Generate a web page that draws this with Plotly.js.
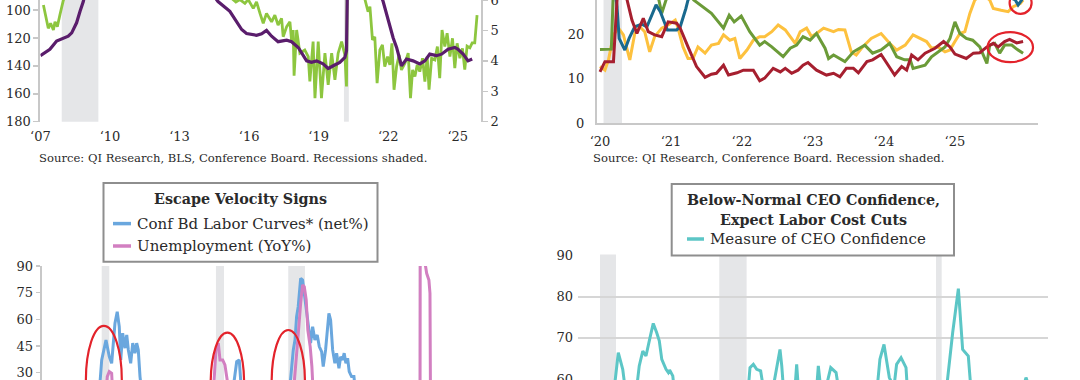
<!DOCTYPE html>
<html><head><meta charset="utf-8">
<script src="https://cdn.plot.ly/plotly-3.0.1.min.js"></script>
<style>html,body{margin:0;padding:0;background:#fff}#chart{width:1080px;height:380px}</style>
</head><body><div id="chart"></div>
<script>
// ---------- Panel A: labor index (left, reversed) & unemployment rate (right) ----------
const jobsX = [2007.13,2007.20,2007.34,2007.44,2007.56,2007.63,2007.73,2007.84,2007.92,2007.99,
2008.5,2010.5,2013.0,2015.0,
2015.43,2015.60,2015.82,2015.96,2016.18,2016.32,2016.47,2016.61,2016.75,2016.97,
2017.11,2017.25,2017.40,2017.47,2017.62,2017.76,2017.83,2017.90,2017.94,2018.05,
2018.19,2018.40,2018.55,2018.62,2018.76,2018.84,2018.98,2019.12,2019.27,2019.41,
2019.56,2019.70,2019.84,2019.99,2020.13,2020.20,2020.24,2020.6,
2020.99,2021.13,2021.21,2021.32,2021.42,2021.52,2021.64,2021.75,2021.85,2021.97,
2022.07,2022.16,2022.25,2022.36,2022.47,2022.57,2022.72,2022.86,2022.96,2023.05,
2023.15,2023.25,2023.36,2023.48,2023.58,2023.68,2023.76,2023.87,2024.01,2024.12,
2024.22,2024.32,2024.44,2024.54,2024.66,2024.77,2024.87,2024.97,2025.09,2025.20,
2025.30,2025.40,2025.52,2025.62,2025.73,2025.83];
const jobsY = [96.4,102.4,113.1,109.5,114.3,108.4,111.9,103.6,97.6,92.9,
80,70,75,88,
94.3,92.5,95.2,92.5,98.8,94.1,102.4,109.5,102.4,108.4,
103.6,110.7,105.9,119.1,111.9,108.4,121.4,114.3,147.1,114.3,
130.9,128.6,133.4,151.2,122.6,163.1,122.6,163.1,130.9,153.6,
130.9,150.0,130.9,122.6,132.1,154.8,60,50,
92,101.2,97.6,121.4,119.1,152.4,128.6,125.0,140.5,133.4,
139.3,123.8,157.1,140.5,132.1,142.9,138.1,130.9,163.1,142.9,
147.6,139.3,144.1,134.5,151.2,133.4,157.1,134.5,135.7,126.2,
148.8,114.3,126.2,116.6,133.4,120.2,141.6,123.8,134.5,127.4,
142.6,125.9,127.1,123.5,123.5,103.6];
const urateX = [2007.0,2007.41,2007.70,2007.99,2008.20,2008.35,2008.56,2008.71,2008.85,2009.3,2009.9,2010.6,2011.5,2012.5,2013.5,2014.2,
2014.66,2015.17,2015.39,2015.68,2015.89,2016.32,2016.54,2016.75,2016.97,2017.25,2017.62,2017.83,2018.12,2018.48,2018.69,2018.91,
2019.19,2019.41,2019.63,2019.91,2020.13,2020.20,2020.23,2020.28,2020.6,2021.0,2021.4,2021.78,2022.00,2022.21,2022.36,2022.57,
2022.79,2023.07,2023.36,2023.58,2023.79,2024.08,2024.30,2024.58,2024.87,2025.01,2025.23,2025.44,2025.62];
const urateY = [4.17,4.38,4.65,4.74,4.81,4.92,5.25,5.63,5.95,7.5,9.5,9.6,9.0,8.1,7.3,6.4,
5.95,5.63,5.36,5.03,4.90,4.84,4.89,5.00,4.81,4.63,4.68,4.63,4.44,4.00,3.95,4.00,
3.90,3.75,3.84,3.95,4.11,4.33,5.95,14.0,11.0,8.5,6.8,5.95,5.30,4.76,4.44,3.84,
4.06,4.00,3.90,4.00,4.22,4.17,4.22,4.38,4.44,4.38,4.22,4.00,4.06];
const recA0 = [2007.92, 2020.09], recA1 = [2009.50, 2020.30];
const ticksA = [2007,2010,2013,2016,2019,2022,2025];
const labelsA = ['\u201807','\u201810','\u201813','\u201816','\u201819','\u201822','\u201825'];

// ---------- Panel B: four survey series since 2020 ----------
const redX = [2020.00,2020.07,2020.19,2020.24,2020.30,2020.38,2020.45,2020.52,2020.61,2020.68,
2020.77,2020.87,2020.96,2021.08,2021.13,2021.24,2021.36,2021.48,2021.57,2021.64,
2021.74,2021.81,2021.93,2022.02,2022.16,2022.25,2022.32,2022.44,2022.54,2022.61,
2022.70,2022.79,2022.86,2022.93,2023.05,2023.19,2023.29,2023.38,2023.47,2023.57,
2023.64,2023.76,2023.84,2023.96,2024.06,2024.15,2024.25,2024.32,2024.39,2024.48,
2024.58,2024.72,2024.84,2024.93,2025.00,2025.16,2025.26,2025.35,2025.45,2025.54,
2025.61,2025.70,2025.77,2025.87,2025.96];
const redY = [11.5,13.8,13.8,27.6,33,27.6,23.1,20.1,23.5,20.5,
19.8,19.4,22.7,22.4,21.3,17.1,12.7,10.3,11.0,11.2,
13.0,10.8,11.3,11.9,11.9,9.5,10.1,12.3,11.5,12.3,
11.2,11.9,13.0,13.6,11.9,10.8,11.2,10.4,12.3,12.3,
11.3,13.8,14.2,15.4,13.0,10.8,12.7,11.9,15.3,14.2,
15.7,16.8,18.3,17.1,15.5,14.5,15.7,15.8,17.1,17.9,
17.1,18.3,18.8,18.0,18.3];
const greenBX = [2020.00,2020.16,2020.20,2020.5,2020.83,2020.87,2020.93,2021.1,2021.32,2021.45,
2021.57,2021.74,2021.82,2021.89,2021.99,2022.11,2022.25,2022.32,2022.42,2022.58,
2022.68,2022.77,2022.86,2022.96,2023.05,2023.17,2023.22,2023.29,2023.45,2023.57,
2023.73,2023.84,2023.96,2024.08,2024.18,2024.29,2024.37,2024.41,2024.51,2024.58,
2024.67,2024.76,2024.86,2024.93,2025.00,2025.07,2025.16,2025.25,2025.35,2025.45,
2025.49,2025.56,2025.63,2025.70,2025.80,2025.87,2025.96];
const greenBY = [16.5,16.6,35,40,27.6,24.6,27.6,33,27.6,26.1,
24.6,21.3,24.2,22.7,24.0,20.5,17.5,18.3,17.1,14.9,
16.8,17.5,19.4,18.6,20.1,16.8,14.5,15.3,13.8,16.0,
17.5,15.7,16.4,17.9,14.9,14.2,14.2,12.3,12.7,13.0,
14.9,16.0,17.1,19.0,22.7,20.1,19.0,18.6,17.1,13.4,
17.5,17.9,15.7,17.5,17.5,16.6,15.7];
const yellowX = [2020.00,2020.07,2020.12,2020.19,2020.26,2020.33,2020.42,2020.49,2020.56,2020.63,
2020.70,2020.77,2020.87,2020.96,2021.06,2021.10,2021.17,2021.24,2021.31,2021.38,
2021.48,2021.57,2021.67,2021.74,2021.83,2021.90,2021.97,2022.07,2022.16,2022.25,
2022.32,2022.42,2022.51,2022.61,2022.68,2022.75,2022.82,2022.91,2022.98,2023.05,
2023.15,2023.22,2023.29,2023.36,2023.45,2023.54,2023.61,2023.70,2023.82,2023.96,
2024.08,2024.18,2024.30,2024.41,2024.51,2024.60,2024.67,2024.76,2024.86,2024.93,
2025.00,2025.07,2025.14,2025.21,2025.28,2025.38,2025.49,2025.54,2025.65,2025.75,
2025.82,2025.92,2025.96];
const yellowY = [12.7,11.9,14.2,19.8,21.3,19.8,14.2,20.1,21.6,20.5,
16.0,19.4,21.3,22.0,23.1,21.3,17.1,14.5,14.5,17.1,
15.7,17.5,17.9,19.8,18.6,19.0,14.5,16.4,18.6,19.4,
19.4,20.5,22.0,20.9,19.4,17.9,20.5,21.3,19.4,20.1,
21.3,20.9,20.5,21.0,20.9,16.0,15.3,17.1,19.0,20.1,
17.9,16.4,17.5,19.8,19.0,18.3,16.8,17.1,16.0,16.4,
18.3,20.1,20.5,24.6,27.6,29,27.6,25.7,25.3,25.0,
26.1,26.8,27.6];
const blueBX = [2020.17,2020.24,2020.27,2020.35,2020.41,2020.49,2020.59,2020.66,2020.73,2020.79,
2020.85,2020.92,2020.95,2021.08,2021.13,2021.21,2021.24,2021.6,2023.0,2024.5,
2025.85,2025.89,2025.94,2025.97];
const blueBY = [35,26.1,19.0,16.4,19.0,21.6,22.2,21.6,24.2,26.5,
25.0,22.0,20.9,20.9,21.6,25.7,27.6,35,40,38,
27.6,26.5,27.6,29];
const recB0 = [2020.05], recB1 = [2020.31];
const ticksB = [2020,2021,2022,2023,2024,2025];
const labelsB = ['\u201820','\u201821','\u201822','\u201823','\u201824','\u201825'];

// ---------- Panel C: Escape Velocity Signs ----------
const laborX = [1985.0,1988.0,1990.3,1990.54,1990.75,1990.94,1991.06,1991.25,1991.47,1991.62,1991.78,1991.99,
1992.18,1992.32,1992.50,1992.72,1992.88,1993.03,1993.25,1993.44,1993.65,1993.81,1993.96,1994.12,1994.3,
1997.0,2000.0,2002.8,2003.16,2003.40,2003.6,2006.0,2008.1,
2008.30,2008.45,2008.61,2008.76,2008.91,2009.14,2009.32,2009.54,2009.76,2009.94,
2010.07,2010.26,2010.47,2010.69,2010.88,2011.10,2011.25,2011.47,2011.66,2011.78,2011.94,
2012.13,2012.34,2012.50,2012.72,2012.88,2013.06,2013.21,2013.37,2013.53,2013.68,2013.90,
2014.12,2014.3,2017.0,2020.0,2022.0,2025.6];
const laborY = [10,15,18,37.2,42.8,48.4,44.7,39.0,35.3,46.6,57.8,64.3,
55.9,37.2,52.2,43.8,51.2,42.8,35.3,46.6,41.0,46.6,42.8,27.8,18,
0,10,20,36.2,37.2,20,5,20,
35.3,42.8,48.4,61.5,67.1,83.1,82.1,71.0,61.5,52.2,
46.6,55.9,48.4,51.2,44.7,41.9,33.4,42.8,54.0,63.4,59.7,
42.8,35.3,41.0,32.5,39.0,37.2,41.0,35.3,38.1,30.6,27.8,
27.8,18,5,15,10,5];
const unempX = [1985.0,1988.0,1990.9,1991.06,1991.25,1991.47,1991.57,1994.0,1998.0,
2000.97,2001.22,2001.44,2001.60,2001.85,2002.06,2002.22,2002.47,2004.0,2007.0,
2008.45,2008.70,2008.92,2009.14,2009.32,2009.48,2009.66,2009.81,2010.03,2010.19,2010.32,
2012.0,2016.0,2019.5,2020.30,2020.36,2020.55,2020.76,2020.92,2021.13,2021.23,2021.29,2022.0,2025.6];
const unempY = [-5,-10,15,27.8,30.6,29.7,18,-10,-5,
18,42.8,46.6,37.2,37.2,34.4,29.7,18,-10,5,
18,39.0,52.2,69.0,79.3,78.4,71.0,54.0,44.7,33.4,18,
-10,-10,-5,10,300,200,92,85.9,82.1,74.7,0,-30,5];
const recC0 = [1990.54,2001.22,2007.98,2020.17], recC1 = [1991.25,2001.97,2009.54,2020.33];

// ---------- Panel D: CEO confidence ----------
const ceoX = [2000.0,2001.9,2002.20,2002.30,2002.45,2002.58,2002.9,2003.24,2003.38,2003.58,2003.76,2003.99,
2004.17,2004.36,2004.51,2004.65,2004.89,2005.02,2005.09,2005.27,2005.34,2006.0,2007.5,2008.5,2009.2,
2009.53,2009.62,2009.81,2010.00,2010.22,2010.37,2010.8,2010.93,2011.31,2011.41,2011.50,2011.8,
2012.16,2012.25,2012.34,2013.0,2013.38,2013.47,2013.60,2013.85,2014.17,2014.47,2014.60,2015.5,2016.5,
2016.79,2016.94,2017.17,2017.32,2017.47,2017.73,2017.88,2018.13,2018.41,2018.48,2019.0,2020.0,2020.70,
2021.04,2021.36,2021.60,2021.92,2022.06,2022.5,2023.5,2024.5,2025.02,2025.17,2025.32,2025.6];
const ceoY = [55,55,66.4,64.8,62.4,58,52,58,63.2,66.8,65.6,70.1,
73.5,71.3,69.3,64.8,62.4,61.6,62.2,60.8,58,52,50,35,45,
58,62.8,63.6,62.4,62.0,58,55,58,67.2,63.2,58,52,
58,63.6,58,50,58,63.2,58,57,62.8,61.6,58,50,52,
58,64.8,68.4,64.8,60.4,58,63.6,65.2,62.8,58,45,35,58,
71.3,81.9,67.2,65.6,58,45,50,55,58,60.4,58,55];
const recD0 = [2001.17,2007.89,2020.10], recD1 = [2002.07,2009.43,2020.42];

// ---------- texts ----------
const srcA = 'Source: QI Research, BLS, Conference Board. Recessions shaded.';
const srcB = 'Source: QI Research, Conference Board. Recession shaded.';
const titleC = 'Escape Velocity Signs';
const legC = ['Conf Bd Labor Curves* (net%)', 'Unemployment (YoY%)'];
const titleD = ['Below-Normal CEO Confidence,', 'Expect Labor Cost Cuts'];
const legD = 'Measure of CEO Confidence';

// ---------- styling / layout ----------
const W = 1080, H = 380;
const px = x => x / W, py = y => 1 - y / H;
const FONT = 'DejaVu Serif';
const TXT = '#2a2a2a';
const tickFont = {family: FONT, size: 13, color: TXT};
const AX = '#c8c8c8';
const SHADE = '#e5e6e8';
const C = {green:'#8dc63f', purple:'#5a1d6c', bBlue:'#19698e', bGreen:'#6b9b38', bYellow:'#fdc13e',
           bRed:'#a61f2f', cBlue:'#6aa7de', cPink:'#d27fc1', teal:'#5cc6c6', ring:'#e3232b'};

function line(x, y, color, w, xa, ya) {
  return {type:'scatter', mode:'lines', x, y, xaxis:xa, yaxis:ya, hoverinfo:'skip',
          line:{color, width:w, shape:'linear'}, showlegend:false};
}
const data = [
  line(jobsX, jobsY, C.green, 2.8, 'x', 'y'),
  line(urateX, urateY, C.purple, 3.2, 'x', 'y2'),
  line(yellowX, yellowY, C.bYellow, 3, 'x2', 'y3'),
  line(greenBX, greenBY, C.bGreen, 3, 'x2', 'y3'),
  line(blueBX, blueBY, C.bBlue, 3, 'x2', 'y3'),
  line(redX, redY, C.bRed, 3, 'x2', 'y3'),
  line(laborX, laborY, C.cBlue, 3, 'x3', 'y4'),
  line(unempX, unempY, C.cPink, 3, 'x3', 'y4'),
  line(ceoX, ceoY, C.teal, 3, 'x4', 'y5')
];

const shapes = [];
function shade(x0s, x1s, xr, yr) {
  x0s.forEach((x0, i) => shapes.push({type:'rect', xref:xr, yref:yr + ' domain', x0, x1:x1s[i], y0:0, y1:1,
    fillcolor:SHADE, line:{width:0}, layer:'below'}));
}
shade(recA0, recA1, 'x', 'y');
shade(recB0, recB1, 'x2', 'y3');
shade(recC0, recC1, 'x3', 'y4');
shade(recD0, recD1, 'x4', 'y5');
function ring(xr, yr, x0, x1, y0, y1) {
  shapes.push({type:'circle', xref:xr, yref:yr, x0, x1, y0, y1, line:{color:C.ring, width:2.2}, layer:'above'});
}
ring('x2','y3', 2025.77, 2026.08, 24.5, 29.4);
ring('x2','y3', 2025.46, 2026.10, 13.7, 20.4);
ring('x3','y4', 1989.06, 1992.42, -4.5, 56.3);
ring('x3','y4', 2000.73, 2003.85, -4, 52.5);
ring('x3','y4', 2006.43, 2009.54, -4, 54.0);
// legend boxes
function box(x0, y0, x1, y1) {
  shapes.push({type:'rect', xref:'paper', yref:'paper', x0:px(x0), x1:px(x1), y0:py(y1), y1:py(y0),
    fillcolor:'#ffffff', line:{color:'#8e8e8e', width:2}, layer:'above'});
}
function swatch(x0, x1, y, color) {
  shapes.push({type:'line', xref:'paper', yref:'paper', x0:px(x0), x1:px(x1), y0:py(y), y1:py(y),
    line:{color, width:3.5}, layer:'above'});
}
box(103.5, 183, 377.5, 261.7);
swatch(113, 131, 223.6, C.cBlue);
swatch(113, 131, 246, C.cPink);
box(671.7, 184, 954, 255.5);
swatch(687, 704, 239, C.teal);

const annotations = [];
function txt(text, x, y, size, anchor, bold) {
  annotations.push({text: bold ? '<b>' + text + '</b>' : text, xref:'paper', yref:'paper', x:px(x), y:py(y),
    xanchor:anchor, yanchor:'middle', showarrow:false, font:{family:FONT, size, color:TXT}});
}
txt(srcA, 37, 158, 11.6, 'left');
txt(srcB, 591, 158, 11.6, 'left');
txt(titleC, 240.5, 199, 14.3, 'center', true);
txt(legC[0], 135, 223.6, 15, 'left');
txt(legC[1], 135, 246, 15, 'left');
txt(titleD[0], 813, 199.5, 14.3, 'center', true);
txt(titleD[1], 813, 220, 14.3, 'center', true);
txt(legD, 708, 239, 15, 'left');

const yCommon = {tickmode:'array', tickfont:tickFont, showgrid:false, zeroline:false, ticklabeloverflow:'allow'};
const layout = {
  width: W, height: H, margin:{l:0, r:0, t:0, b:0, pad:0},
  paper_bgcolor:'#ffffff', plot_bgcolor:'rgba(0,0,0,0)', showlegend:false,
  font:{family:FONT, color:TXT},
  xaxis:{domain:[px(40.4), px(481)], range:[2007, 2026.0], anchor:'y', tickmode:'array', tickvals:ticksA, ticktext:labelsA,
    showline:false, ticks:'', tickfont:tickFont, showgrid:false, zeroline:false, ticklabelstandoff:5},
  yaxis:Object.assign({}, yCommon, {domain:[py(121.7), 1], range:[180, 92.8], anchor:'x', tickvals:[100,120,140,160,180],
    showline:true, linecolor:AX, linewidth:2, ticks:'outside', ticklen:5, tickcolor:AX, tickwidth:1.5}),
  yaxis2:Object.assign({}, yCommon, {overlaying:'y', side:'right', anchor:'x', range:[2, 6], tickvals:[2,3,4,5,6],
    showline:true, linecolor:AX, linewidth:2, ticks:'outside', ticklen:5, tickcolor:AX, tickwidth:1.5}),
  xaxis2:{domain:[px(597), px(1038)], range:[2019.958, 2026.17], anchor:'y3', tickmode:'array', tickvals:ticksB, ticktext:labelsB,
    showline:true, linecolor:AX, linewidth:2, ticks:'', tickfont:tickFont, showgrid:false, zeroline:false, ticklabelstandoff:5},
  yaxis3:Object.assign({}, yCommon, {domain:[py(123.3), 1], range:[0, 27.6], anchor:'x2', tickvals:[0,10,20],
    showline:true, linecolor:AX, linewidth:2, ticks:'', ticklabelstandoff:8}),
  xaxis3:{domain:[px(41.7), px(481)], range:[1984.93, 2026], anchor:'y4', visible:false},
  yaxis4:Object.assign({}, yCommon, {domain:[0, py(266)], range:[25.9, 90], anchor:'x3', tickvals:[30,45,60,75,90],
    showline:true, linecolor:AX, linewidth:2, ticks:'outside', ticklen:4, tickcolor:AX, tickwidth:1.5}),
  xaxis4:{domain:[px(578), px(1048)], range:[1999.93, 2026.41], anchor:'y5', visible:false},
  yaxis5:Object.assign({}, yCommon, {domain:[0, py(254.4)], range:[59.8, 90.2], anchor:'x4', tickvals:[60,70,80,90],
    showline:false, ticks:'', showgrid:true, gridcolor:'#d6d6d6', gridwidth:2, ticklabelstandoff:4}),
  shapes, annotations
};
Plotly.newPlot('chart', data, layout, {staticPlot:true, displayModeBar:false});
</script></body></html>
